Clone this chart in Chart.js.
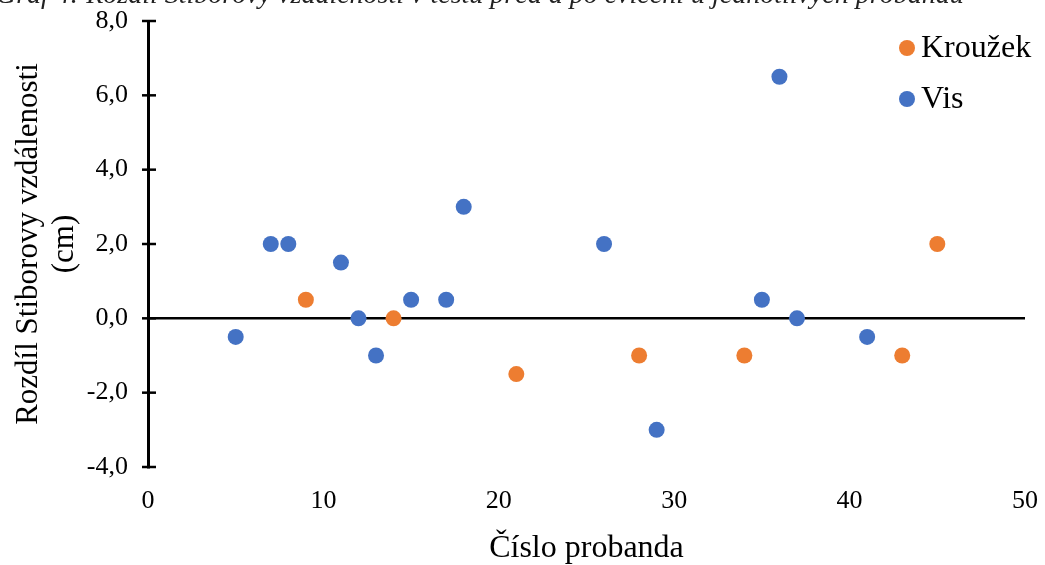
<!DOCTYPE html>
<html lang="cs">
<head>
<meta charset="utf-8">
<title>Rozdíl Stiborovy vzdálenosti</title>
<script src="https://cdn.jsdelivr.net/npm/chart.js@4.4.1/dist/chart.umd.min.js"></script>
<style>
    html, body { margin: 0; padding: 0; background: #fff; }
    #graf { display: block; }
</style>
</head>
<body>
<canvas id="graf" width="1045" height="565"></canvas>
<script>
// Data
const krouzekX = [9, 14, 21, 28, 34, 43, 45];
const krouzekY = [0.5, 0, -1.5, -1, -1, -1, 2];
const visX = [5, 7, 8, 11, 12, 13, 15, 17, 18, 26, 29, 35, 36, 37, 41];
const visY = [-0.5, 2, 2, 1.5, 0, -1, 0.5, 0.5, 3, 2, -3, 0.5, 6.5, 0, -0.5];
const serie = ['Kroužek', 'Vis'];
const nadpis = 'Graf 4: Rozdíl Stiborovy vzdálenosti v testu před a po cvičení u jednotlivých probandů';

const barvy = ['#ED7D31', '#4472C4'];
const pismo = '"Liberation Serif", "Times New Roman", serif';

// Spáruje x a y hodnoty do bodů
const body = (xs, ys) => xs.map((x, i) => ({ x: x, y: ys[i] }));

// Vlastní legenda, oříznutý nadpis a křížové značky na ose y
const doplnky = {
    id: 'doplnky',
    afterDraw(chart) {
        const ctx = chart.ctx;
        const y = chart.scales.y;
        ctx.save();
        // značky přes osu y
        ctx.strokeStyle = '#000';
        ctx.lineWidth = 2.5;
        y.ticks.forEach(t => {
            const py = y.getPixelForValue(t.value);
            ctx.beginPath();
            ctx.moveTo(y.right - 6, py);
            ctx.lineTo(y.right + 8, py);
            ctx.stroke();
        });
        // legenda
        ctx.font = '32px ' + pismo;
        ctx.textBaseline = 'middle';
        serie.forEach((nazev, i) => {
            const ly = 48 + i * 51;
            ctx.fillStyle = barvy[i];
            ctx.beginPath();
            ctx.arc(907, ly, 8, 0, Math.PI * 2);
            ctx.fill();
            ctx.fillStyle = '#000';
            ctx.fillText(nazev, 921, ly + 1);
        });
        // nadpis, který je nahoře oříznutý
        ctx.font = 'italic 28px ' + pismo;
        ctx.textBaseline = 'alphabetic';
        ctx.fillStyle = '#222';
        ctx.fillText(nadpis, -4, 3);
        ctx.restore();
    }
};

new Chart(document.getElementById('graf'), {
    type: 'scatter',
    data: {
        datasets: [
            {
                label: serie[0],
                data: body(krouzekX, krouzekY),
                backgroundColor: barvy[0],
                borderWidth: 0,
                pointRadius: 8,
                pointHoverRadius: 8
            },
            {
                label: serie[1],
                data: body(visX, visY),
                backgroundColor: barvy[1],
                borderWidth: 0,
                pointRadius: 8,
                pointHoverRadius: 8
            }
        ]
    },
    options: {
        responsive: false,
        animation: false,
        layout: { padding: { top: 21, right: 20, left: 7, bottom: 0 } },
        plugins: {
            legend: { display: false },
            tooltip: { enabled: false }
        },
        scales: {
            x: {
                type: 'linear',
                min: 0,
                max: 50,
                ticks: {
                    stepSize: 10,
                    padding: 19,
                    color: '#000',
                    font: { family: pismo, size: 26 }
                },
                grid: { display: false, drawTicks: false },
                border: { display: false },
                title: {
                    display: true,
                    text: 'Číslo probanda',
                    color: '#000',
                    font: { family: pismo, size: 32, lineHeight: 1.0 },
                    padding: { top: 19, bottom: 0 }
                },
                afterFit: s => {
                    s.height = 98;
                    s.paddingLeft = 0;
                    s.paddingRight = 0;
                }
            },
            y: {
                min: -4,
                max: 8,
                ticks: {
                    stepSize: 2,
                    padding: 20,
                    color: '#000',
                    font: { family: pismo, size: 26 },
                    callback: v => v.toFixed(1).replace('.', ',')
                },
                grid: {
                    drawTicks: false,
                    lineWidth: 2.5,
                    color: c => c.tick && c.tick.value === 0 ? '#000' : 'rgba(0,0,0,0)'
                },
                border: { display: true, color: '#000', width: 3 },
                title: {
                    display: true,
                    text: ['Rozdíl Stiborovy vzdálenosti', '(cm)'],
                    color: '#000',
                    font: { family: pismo, size: 31, lineHeight: 1.15 },
                    padding: { bottom: 0 }
                },
                afterFit: s => {
                    s.width = 141;
                    s.paddingTop = 0;
                    s.paddingBottom = 0;
                }
            }
        }
    },
    plugins: [doplnky]
});
</script>
</body>
</html>
